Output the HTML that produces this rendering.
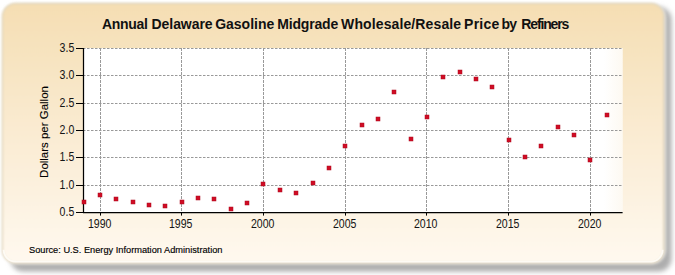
<!DOCTYPE html>
<html><head><meta charset="utf-8"><style>
html,body{margin:0;padding:0;background:#fff;width:675px;height:275px;overflow:hidden}
svg{display:block;font-family:"Liberation Sans",sans-serif}
</style></head><body>
<svg width="675" height="275" viewBox="0 0 675 275">
<defs>
<linearGradient id="bg" x1="0" y1="0" x2="0" y2="1">
<stop offset="0" stop-color="#F5DEB3"/>
<stop offset="0.5" stop-color="#FAEBD2"/><stop offset="1" stop-color="#FFF9EF"/>
</linearGradient>
<linearGradient id="pr" x1="0" y1="0" x2="1" y2="0">
<stop offset="0" stop-color="#FBF3E4" stop-opacity="0"/>
<stop offset="1" stop-color="#FBF3E4" stop-opacity="0.5"/>
</linearGradient>
<filter id="sh" x="-5%" y="-10%" width="115%" height="130%">
<feGaussianBlur stdDeviation="2.5"/>
</filter>
<filter id="fb" x="-2%" y="-2%" width="104%" height="104%">
<feGaussianBlur stdDeviation="0.8"/>
</filter>
<filter id="gl" x="-3%" y="-5%" width="106%" height="110%">
<feGaussianBlur stdDeviation="1.5"/>
</filter>
</defs>
<rect x="10.5" y="7" width="661" height="264.5" rx="13" fill="#adadad" filter="url(#sh)"/>
<rect x="4" y="5" width="660.3" height="257.5" rx="13" fill="none" stroke="#f2f0ec" stroke-width="4" opacity="0.75" filter="url(#gl)"/>
<rect x="2.5" y="3.5" width="661.3" height="259.2" rx="13" fill="url(#bg)" stroke="#E2D6BC" stroke-width="1.4" filter="url(#fb)"/><path d="M3.6 249.7 A11.9 11.9 0 0 0 15.5 261.6 H650.8 A11.9 11.9 0 0 0 662.7 249.7" fill="none" stroke="#FFFDF8" stroke-width="1.8" opacity="0.85"/>
<rect x="83" y="48" width="539.60" height="164.5" fill="#fff"/>
<rect x="604" y="48" width="18.60" height="164.5" fill="url(#pr)"/>
<g stroke="#999" stroke-width="1" stroke-dasharray="2.5,1.5" fill="none"><line x1="83" y1="185.50" x2="622.60" y2="185.50"/><line x1="83" y1="157.50" x2="622.60" y2="157.50"/><line x1="83" y1="130.50" x2="622.60" y2="130.50"/><line x1="83" y1="103.50" x2="622.60" y2="103.50"/><line x1="83" y1="75.50" x2="622.60" y2="75.50"/><line x1="83" y1="48.50" x2="622.60" y2="48.50"/></g>
<g stroke="#999" stroke-width="1" stroke-dasharray="3,1" fill="none"><line x1="100.50" y1="48" x2="100.50" y2="212"/><line x1="181.50" y1="48" x2="181.50" y2="212"/><line x1="263.50" y1="48" x2="263.50" y2="212"/><line x1="345.50" y1="48" x2="345.50" y2="212"/><line x1="426.50" y1="48" x2="426.50" y2="212"/><line x1="508.50" y1="48" x2="508.50" y2="212"/><line x1="590.50" y1="48" x2="590.50" y2="212"/></g>
<g stroke="#000" stroke-width="1"><line x1="76" y1="212.50" x2="84" y2="212.50"/><line x1="76" y1="185.50" x2="84" y2="185.50"/><line x1="76" y1="157.50" x2="84" y2="157.50"/><line x1="76" y1="130.50" x2="84" y2="130.50"/><line x1="76" y1="103.50" x2="84" y2="103.50"/><line x1="76" y1="75.50" x2="84" y2="75.50"/><line x1="76" y1="48.50" x2="84" y2="48.50"/><line x1="100.50" y1="212" x2="100.50" y2="215.6"/><line x1="181.50" y1="212" x2="181.50" y2="215.6"/><line x1="263.50" y1="212" x2="263.50" y2="215.6"/><line x1="345.50" y1="212" x2="345.50" y2="215.6"/><line x1="426.50" y1="212" x2="426.50" y2="215.6"/><line x1="508.50" y1="212" x2="508.50" y2="215.6"/><line x1="590.50" y1="212" x2="590.50" y2="215.6"/></g>
<g stroke="#000" stroke-width="1.25">
<line x1="83.5" y1="48" x2="83.5" y2="213"/>
<line x1="83" y1="212.5" x2="622.60" y2="212.5"/>
</g>
<g fill="#D00C24" stroke="#AC0A1E" stroke-width="0.5"><rect x="82" y="200" width="4" height="4"/><rect x="98" y="193" width="4" height="4"/><rect x="114" y="197" width="4" height="4"/><rect x="131" y="200" width="4" height="4"/><rect x="147" y="203" width="4" height="4"/><rect x="163" y="204" width="4" height="4"/><rect x="180" y="200" width="4" height="4"/><rect x="196" y="196" width="4" height="4"/><rect x="212" y="197" width="4" height="4"/><rect x="229" y="207" width="4" height="4"/><rect x="245" y="201" width="4" height="4"/><rect x="261" y="182" width="4" height="4"/><rect x="278" y="188" width="4" height="4"/><rect x="294" y="191" width="4" height="4"/><rect x="311" y="181" width="4" height="4"/><rect x="327" y="166" width="4" height="4"/><rect x="343" y="144" width="4" height="4"/><rect x="360" y="123" width="4" height="4"/><rect x="376" y="117" width="4" height="4"/><rect x="392" y="90" width="4" height="4"/><rect x="409" y="137" width="4" height="4"/><rect x="425" y="115" width="4" height="4"/><rect x="441" y="75" width="4" height="4"/><rect x="458" y="70" width="4" height="4"/><rect x="474" y="77" width="4" height="4"/><rect x="490" y="85" width="4" height="4"/><rect x="507" y="138" width="4" height="4"/><rect x="523" y="155" width="4" height="4"/><rect x="539" y="144" width="4" height="4"/><rect x="556" y="125" width="4" height="4"/><rect x="572" y="133" width="4" height="4"/><rect x="588" y="158" width="4" height="4"/><rect x="605" y="113" width="4" height="4"/></g>
<g fill="#151515" stroke="#151515" stroke-width="0.04" font-size="12" text-anchor="end"><text transform="translate(74.3,215.90) scale(0.88,1)">0.5</text><text transform="translate(74.3,188.90) scale(0.88,1)">1.0</text><text transform="translate(74.3,160.90) scale(0.88,1)">1.5</text><text transform="translate(74.3,133.90) scale(0.88,1)">2.0</text><text transform="translate(74.3,106.90) scale(0.88,1)">2.5</text><text transform="translate(74.3,78.90) scale(0.88,1)">3.0</text><text transform="translate(74.3,51.90) scale(0.88,1)">3.5</text></g>
<g fill="#151515" stroke="#151515" stroke-width="0.04" font-size="12" text-anchor="middle"><text transform="translate(99.70,227.6) scale(0.88,1)">1990</text><text transform="translate(180.70,227.6) scale(0.88,1)">1995</text><text transform="translate(262.70,227.6) scale(0.88,1)">2000</text><text transform="translate(344.70,227.6) scale(0.88,1)">2005</text><text transform="translate(425.70,227.6) scale(0.88,1)">2010</text><text transform="translate(507.70,227.6) scale(0.88,1)">2015</text><text transform="translate(589.70,227.6) scale(0.88,1)">2020</text></g>
<g font-size="14" font-weight="bold" fill="#111"><text x="101.95" y="29" letter-spacing="-0.278">Annual</text><text x="151.56" y="29" letter-spacing="-0.066">Delaware</text><text x="215.13" y="29" letter-spacing="0.004">Gasoline</text><text x="277.26" y="29" letter-spacing="-0.171">Midgrade</text><text x="341.08" y="29" letter-spacing="0.115">Wholesale/Resale</text><text x="464.06" y="29" letter-spacing="0.270">Price</text><text x="501.58" y="29" letter-spacing="-0.830">by</text><text x="521.26" y="29" letter-spacing="-1.127">Refiners</text></g>
<text transform="translate(48.2,132) rotate(-90)" font-size="11.48" text-anchor="middle" fill="#000" stroke="#000" stroke-width="0.1">Dollars per Gallon</text>
<text x="29" y="253" font-size="9.3" textLength="193.5" lengthAdjust="spacingAndGlyphs" fill="#000" stroke="#000" stroke-width="0.15">Source: U.S. Energy Information Administration</text>
</svg>
</body></html>
